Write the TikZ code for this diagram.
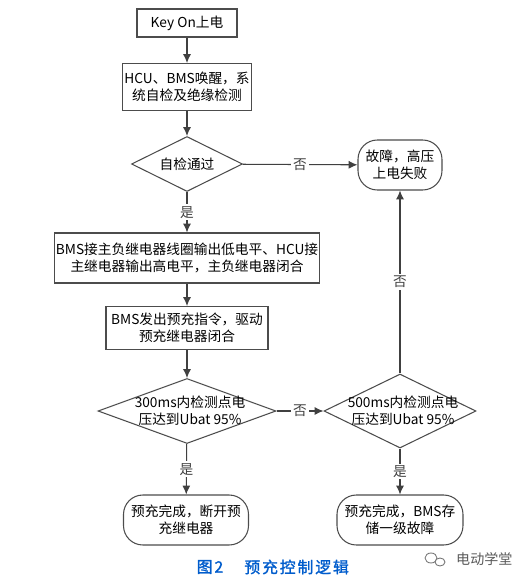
\documentclass[tikz,border=0pt]{standalone}
\usepackage{fontspec}
\setmainfont{Noto Sans CJK SC}
\newfontfamily\capfont[FakeBold=1.5,LetterSpace=12]{Noto Sans CJK SC}
\usetikzlibrary{arrows.meta,shapes.geometric,positioning}

\begin{document}
\begin{tikzpicture}[x=0.02cm, y=-0.02cm, >={Latex[length=5pt,width=4.5pt]},
    line/.style={black!75, line width=0.6pt},
    flow/.style={line, ->},
    procbox/.style={rectangle, draw=black!70, line width=0.6pt, inner sep=1pt, align=center,
      font=\fontsize{7.8}{9.8}\selectfont},
    endbox/.style={procbox, rounded corners=11pt},
    decision/.style={diamond, draw=black!70, line width=0.6pt, inner sep=0pt},
    dtext/.style={align=center, font=\fontsize{7.8}{9.8}\selectfont, inner sep=0pt},
    answer/.style={fill=white, inner sep=1pt, font=\fontsize{7.8}{9}\selectfont}]

  \useasboundingbox (0,0) rectangle (515,581);

  % main column
  \node[procbox, minimum width=2cm, minimum height=0.56cm] (keyon) at (187,23) {Key On上电};
  \node[procbox, minimum width=2.52cm, minimum height=0.94cm] (wake) at (187,87)
    {HCU、BMS唤醒，系\\统自检及绝缘检测};
  \node[decision, minimum width=2.22cm, minimum height=1.1cm] (check) at (187,164) {};
  \node[dtext] (checktxt) at (check.center) {自检通过};
  \node[procbox, minimum width=5.3cm, minimum height=1cm] (mainrly) at (187,258)
    {BMS接主负继电器线圈输出低电平、HCU接\\主继电器输出高电平，主负继电器闭合};
  \node[procbox, minimum width=3.24cm, minimum height=0.86cm] (prechg) at (187,328)
    {BMS发出预充指令，驱动\\预充继电器闭合};
  \node[decision, minimum width=3.56cm, minimum height=1.3cm] (volt300) at (187,411) {};
  \node[dtext] (volt300txt) at (190,411) {300ms内检测点电\\压达到Ubat 95\%};
  \node[endbox, minimum width=2.5cm, minimum height=1cm] (done) at (186,520)
    {预充完成，断开预\\充继电器};

  % right column
  \node[endbox, minimum width=1.68cm, minimum height=1cm] (fail) at (400,165)
    {故障，高压\\上电失败};
  \node[decision, minimum width=3.04cm, minimum height=1.48cm] (volt500) at (400,411) {};
  \node[dtext] (volt500txt) at (403,411) {500ms内检测点电\\压达到Ubat 95\%};
  \node[endbox, minimum width=2.52cm, minimum height=1cm] (store) at (400,520)
    {预充完成，BMS存\\储一级故障};

  % connectors
  \draw[flow] (keyon) -- (wake);
  \draw[flow] (wake) -- (check);
  \draw[flow] (check) -- node[answer] {是} (mainrly);
  \draw[flow] (check) -- node[answer] {否} (fail);
  \draw[flow] (mainrly) -- (prechg);
  \draw[flow] (prechg) -- (volt300);
  \draw[flow] (volt300) -- node[answer] {否} (volt500);
  \draw[flow] (volt300) -- node[answer] {是} (done);
  \draw[flow] (volt500) -- node[answer] {是} (store);
  \draw[flow] (volt500) -- node[answer] {否} (fail);

  % caption
  \node[text=blue!55!cyan!80!black, font=\capfont\fontsize{9}{10}\selectfont] (capnum) at (210,567) {图2};
  \node[text=blue!55!cyan!80!black, font=\capfont\fontsize{9}{10}\selectfont, right=5pt of capnum] (captxt) {预充控制逻辑};

  % watermark
  \draw[black!55, line width=0.5pt] (431,558) ellipse (6 and 5);
  \draw[black!55, line width=0.5pt, fill=white] (440,562) ellipse (5 and 4);
  \node[black!65, font=\fontsize{8}{9}\selectfont, anchor=west] (mark) at (450,559) {电动学堂};

\end{tikzpicture}
\end{document}
